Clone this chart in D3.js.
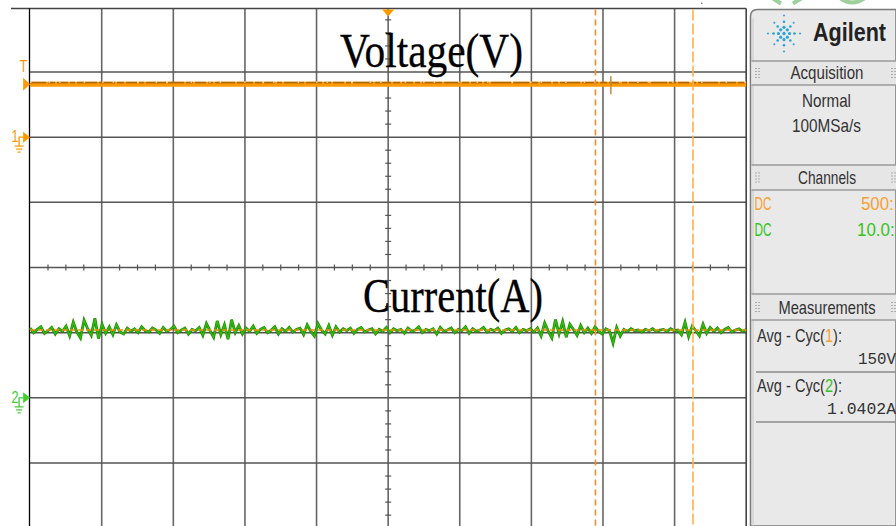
<!DOCTYPE html>
<html>
<head>
<meta charset="utf-8">
<script src="https://cdn.jsdelivr.net/npm/d3@7"></script>
<style>
  html, body { margin: 0; padding: 0; background: #ffffff; }
  svg { display: block; }
</style>
</head>
<body>
<script>
// ---- acquisition settings ----
const voltsPerDiv = 185;        // channel 1 (500:1 probe)
const ampsPerDiv = 1;           // channel 2 (10.0:1 probe)
const ch1GroundDiv = 2;         // ground reference positions, in divisions from centre
const ch2GroundDiv = -2;
const triggerLevel = 150;       // volts

// ---- captured channel 1 samples (V) ----
const voltage = [150, 150, 150, 150, 150, 150, 150, 150, 150, 150,
                 150, 150, 150, 150, 150, 150, 150, 150, 150, 150];

// ---- captured channel 2 samples (A) ----
const current = [
  1.07, 1.00, 1.05, 1.09, 0.99, 1.03, 1.08, 0.98, 1.06, 1.02, 1.10,
  0.95, 1.16, 1.01, 0.92, 1.19, 1.06, 0.96, 1.22, 0.91, 1.13, 0.99,
  1.09, 0.97, 1.12, 1.01, 0.98, 1.07, 1.02,
  1.06, 1.00, 1.09, 1.03, 1.01, 1.07, 1.04, 0.99, 1.08, 1.02, 1.05, 1.10, 1.00, 1.04, 1.07, 0.98, 1.05, 1.03, 1.08,
  0.96, 1.14, 1.03, 0.93, 1.18, 0.97, 1.12, 0.90, 1.20, 1.00, 1.11,
  0.98, 1.07, 1.02, 1.10, 0.99, 1.05, 1.08, 1.00, 1.04, 1.09, 0.98, 1.06, 1.02, 1.08, 1.01, 1.05, 1.07,
  0.97, 1.12, 1.02, 0.95, 1.14, 1.04, 0.98, 1.11, 0.96, 1.09, 1.01, 1.06,
  1.03, 1.07, 0.99, 1.05, 1.08, 1.01, 1.04, 1.06, 0.98, 1.05, 1.02, 1.08, 1.00, 1.06, 1.03, 1.05, 0.99, 1.07,
  1.02, 1.04, 1.09, 1.00, 1.05, 1.03, 1.06, 0.98, 1.08, 1.02, 1.04, 1.07, 1.00, 1.05, 1.03, 1.09, 0.99, 1.06,
  1.02, 1.04, 1.08, 1.01, 1.05, 1.03, 1.07, 0.99, 1.04, 1.06, 1.02, 1.08, 1.00, 1.05, 1.03, 1.06, 1.01, 1.07,
  0.95, 1.15, 1.02, 0.92, 1.20, 0.98, 1.17, 0.93, 1.13, 1.05, 0.96, 1.11, 1.00,
  1.07, 0.99, 1.09, 1.02, 0.98, 1.06, 1.03,
  0.84, 1.08, 0.95,
  1.05, 1.02, 1.06, 1.03, 1.04, 1.01, 1.05, 1.03, 1.06, 1.02, 1.04, 1.05, 1.02, 1.06, 1.03, 1.04,
  0.97, 1.16, 0.94, 1.10, 1.03, 0.95, 1.13, 0.99, 1.08,
  1.02, 1.07, 1.00, 1.05, 1.08, 1.01, 1.04, 1.06, 1.02, 1.05
];

// ---- cursors and markers (time in divisions from centre) ----
const cursorDivs = [2.895, 4.257];
const sampleMarkerDiv = 3.11;

// ---- measurement readouts ----
const avgVoltage = 150;
const avgCurrent = 1.0402;
const traceTitles = ["Voltage(V)", "Current(A)"];

// ---- layout ----
const W = 896, H = 526;
const svg = d3.select("body").append("svg").attr("width", W).attr("height", H);

const x = d3.scaleLinear().domain([-5, 5]).range([30.1, 746.2]);
const y = d3.scaleLinear().domain([-4, 4]).range([528.2, 6.8]);
const frameTop = 8.5;

const yV = v => y(ch1GroundDiv + v / voltsPerDiv);
const yA = a => y(ch2GroundDiv + a / ampsPerDiv);
const xt = d3.scaleLinear().domain([0, current.length - 1]).range([x(-5), x(5)]);
const xtV = d3.scaleLinear().domain([0, voltage.length - 1]).range([x(-5), x(5)]);

const ORANGE = "#ff9900";
const GREEN = "#33bb11";

// ---- graticule ----
const grid = svg.append("g");
grid.selectAll("line.v").data(d3.range(-4, 5)).join("line")
  .attr("class", "v")
  .attr("x1", d => x(d)).attr("x2", d => x(d))
  .attr("y1", frameTop).attr("y2", H)
  .attr("stroke", "#666").attr("stroke-width", 1.6);
grid.selectAll("line.h").data(d3.range(-3, 4)).join("line")
  .attr("class", "h")
  .attr("x1", x(-5)).attr("x2", x(5))
  .attr("y1", d => y(d)).attr("y2", d => y(d))
  .attr("stroke", "#555").attr("stroke-width", 1.5);

// minor ticks on the centre axes: 4 per division in time, 5 per division vertically
grid.selectAll("line.tickx").data(d3.range(-20, 21).filter(d => d % 4 !== 0)).join("line")
  .attr("class", "tickx")
  .attr("x1", d => x(d / 4)).attr("x2", d => x(d / 4))
  .attr("y1", y(0) - 3).attr("y2", y(0) + 3)
  .attr("stroke", "#555").attr("stroke-width", 1.2);
grid.selectAll("line.ticky").data(d3.range(-20, 21).filter(d => d % 5 !== 0)).join("line")
  .attr("class", "ticky")
  .attr("x1", x(0) - 3).attr("x2", x(0) + 3)
  .attr("y1", d => y(d / 5)).attr("y2", d => y(d / 5))
  .attr("stroke", "#555").attr("stroke-width", 1.2);

// frame
svg.append("line").attr("x1", 11).attr("x2", x(5)).attr("y1", frameTop).attr("y2", frameTop)
  .attr("stroke", "#444").attr("stroke-width", 1.6);
svg.append("line").attr("x1", x(-5) - 0.6).attr("x2", x(-5) - 0.6).attr("y1", frameTop).attr("y2", H)
  .attr("stroke", "#000").attr("stroke-width", 1.3);
svg.append("line").attr("x1", x(5)).attr("x2", x(5)).attr("y1", frameTop).attr("y2", H)
  .attr("stroke", "#444").attr("stroke-width", 1.6);

// ---- channel 1 trace ----
const lineV = d3.line().x((d, i) => xtV(i)).y(d => yV(d));
svg.append("path").datum(voltage).attr("d", lineV)
  .attr("fill", "none").attr("stroke", ORANGE).attr("stroke-width", 5);
svg.append("path").datum(voltage).attr("d", d3.line().x((d, i) => xtV(i)).y(d => yV(d) - 1.6))
  .attr("fill", "none").attr("stroke", "#b06a08").attr("stroke-width", 1.8)
  .attr("stroke-dasharray", "16,2,7,2,11,2,5,2,20,2");
svg.append("path").datum(voltage).attr("d", d3.line().x((d, i) => xtV(i)).y(d => yV(d) - 2.2))
  .attr("fill", "none").attr("stroke", "#ffffff").attr("stroke-width", 1)
  .attr("stroke-dasharray", "1.5,17,1.5,9,1.5,23");

// sample marker on channel 1
svg.append("line")
  .attr("x1", x(sampleMarkerDiv)).attr("x2", x(sampleMarkerDiv))
  .attr("y1", yV(avgVoltage) - 8).attr("y2", yV(avgVoltage) + 10)
  .attr("stroke", "#c08a40").attr("stroke-width", 1.5);

// ---- channel 2 trace ----
const lineA = d3.line().x((d, i) => xt(i)).y(d => yA(d));
svg.append("path").datum(current).attr("d", lineA)
  .attr("fill", "none").attr("stroke", "#1f8a00").attr("stroke-width", 2.8);
svg.append("path").datum(current).attr("d", lineA)
  .attr("fill", "none").attr("stroke", GREEN).attr("stroke-width", 1.4);

// average marker on channel 2
svg.append("line").attr("x1", x(-5)).attr("x2", x(5))
  .attr("y1", yA(avgCurrent)).attr("y2", yA(avgCurrent))
  .attr("stroke", "#ff8800").attr("stroke-width", 1.5).attr("stroke-dasharray", "5,3");

// ---- time cursors ----
svg.selectAll("line.cursor").data(cursorDivs).join("line")
  .attr("class", "cursor")
  .attr("x1", d => x(d)).attr("x2", d => x(d))
  .attr("y1", frameTop + 1).attr("y2", H)
  .attr("stroke", (d, i) => i === 0 ? "#f58a2a" : "#ffb050")
  .attr("stroke-width", 1.6)
  .attr("stroke-dasharray", (d, i) => i === 0 ? "6,4" : "11,3");

// trigger position marker
svg.append("path")
  .attr("d", `M${x(0) - 6},${frameTop + 1}L${x(0) + 6},${frameTop + 1}L${x(0)},${frameTop + 8}Z`)
  .attr("fill", ORANGE);

// ---- left-edge markers ----
const L = x(-5);
svg.append("text").attr("x", L - 6.5).attr("y", yV(triggerLevel) - 12)
  .attr("text-anchor", "middle").attr("font-family", "Liberation Sans, sans-serif")
  .attr("font-size", 16).attr("textLength", 8).attr("lengthAdjust", "spacingAndGlyphs")
  .attr("fill", ORANGE).text("T");
svg.append("path")
  .attr("d", `M${L - 7},${yV(triggerLevel) - 6.5}L${L},${yV(triggerLevel)}L${L - 7},${yV(triggerLevel) + 6.5}Z`)
  .attr("fill", ORANGE);

function groundMarker(label, yy, color) {
  const g = svg.append("g");
  g.append("text").attr("x", L - 15).attr("y", yy + 5)
    .attr("text-anchor", "middle").attr("font-family", "Liberation Sans, sans-serif")
    .attr("font-size", 16).attr("textLength", 7).attr("lengthAdjust", "spacingAndGlyphs")
    .attr("fill", color).text(label);
  g.append("path").attr("d", `M${L - 7},${yy - 5.5}L${L},${yy}L${L - 7},${yy + 5.5}Z`).attr("fill", color);
  g.append("path")
    .attr("d", `M${L - 7},${yy}H${L - 11}V${yy + 9}M${L - 15.5},${yy + 9}H${L - 6.5}M${L - 14},${yy + 12}H${L - 8}M${L - 12.5},${yy + 15}H${L - 9.5}`)
    .attr("fill", "none").attr("stroke", color).attr("stroke-width", 1.3);
}
groundMarker("1", y(ch1GroundDiv), ORANGE);
groundMarker("2", y(ch2GroundDiv), "#44cc33");

// ---- trace titles ----
const titleFont = "Liberation Serif, 'Times New Roman', serif";
svg.append("text").attr("x", 340).attr("y", 67)
  .attr("font-family", titleFont).attr("font-size", 48)
  .attr("textLength", 183).attr("lengthAdjust", "spacingAndGlyphs")
  .attr("fill", "#000").attr("stroke", "#000").attr("stroke-width", 0.3).text(traceTitles[0]);
svg.append("text").attr("x", 363).attr("y", 312)
  .attr("font-family", titleFont).attr("font-size", 48)
  .attr("textLength", 180).attr("lengthAdjust", "spacingAndGlyphs")
  .attr("fill", "#000").attr("stroke", "#000").attr("stroke-width", 0.3).text(traceTitles[1]);

// stray pixel near the top edge
svg.append("rect").attr("x", 701).attr("y", 2.5).attr("width", 1.5).attr("height", 1.5).attr("fill", "#888");

// ---- side panel ----
const P = svg.append("g");
const px = 750.5;
P.append("path")
  .attr("d", `M${px},${H}V${frameTop + 8}Q${px},${frameTop + 1} ${px + 7},${frameTop + 1}H${W}V${H}Z`)
  .attr("fill", "#e9e9e9").attr("stroke", "#7a7a7a").attr("stroke-width", 1.5);
P.append("line").attr("x1", px + 2.5).attr("x2", px + 2.5).attr("y1", frameTop + 10).attr("y2", H)
  .attr("stroke", "#c8c8c8").attr("stroke-width", 1);

// partial green glyphs above the panel
P.append("path").attr("d", "M772,-2L781,3.5M802,-2L793,3.5")
  .attr("stroke", "#9dd09d").attr("stroke-width", 4).attr("fill", "none");
P.append("path").attr("d", "M840,-2Q852,7 865,-2")
  .attr("stroke", "#9dd09d").attr("stroke-width", 4).attr("fill", "none");

// Agilent spark logo
const logoC = [784, 33.5];
d3.range(8).forEach(i => {
  const a = i * Math.PI / 4;
  const axis = i % 2 === 0;
  [5.5, 10.5, 16].forEach((r, k) => {
    P.append("circle")
      .attr("cx", logoC[0] + Math.cos(a) * r * (axis ? 1 : 0.85))
      .attr("cy", logoC[1] + Math.sin(a) * r * (axis ? 1.12 : 0.95))
      .attr("r", [1.6, 1.3, 1.0][k]).attr("fill", "#2aa3d8");
  });
});
P.append("circle").attr("cx", logoC[0]).attr("cy", logoC[1]).attr("r", 1.7).attr("fill", "#2aa3d8");
P.append("text").attr("x", 813).attr("y", 41)
  .attr("font-family", "Liberation Sans, Arial, sans-serif").attr("font-weight", "bold")
  .attr("font-size", 25).attr("textLength", 73).attr("lengthAdjust", "spacingAndGlyphs")
  .attr("fill", "#222").text("Agilent");

// section headers
const sections = [
  { name: "Acquisition", top: 61, bottom: 85, len: 73 },
  { name: "Channels", top: 165, bottom: 190, len: 58 },
  { name: "Measurements", top: 294, bottom: 320, len: 97 }
];
const panelFont = "Liberation Sans, Arial, sans-serif";
sections.forEach(s => {
  P.append("rect").attr("x", px + 1).attr("y", s.top).attr("width", W - px).attr("height", s.bottom - s.top)
    .attr("fill", "#e6e6e6");
  [s.top, s.bottom].forEach(yy => P.append("line").attr("x1", px + 1).attr("x2", W)
    .attr("y1", yy).attr("y2", yy).attr("stroke", "#9a9a9a").attr("stroke-width", 1.6));
  P.append("text").attr("x", 827).attr("y", s.bottom - 6).attr("text-anchor", "middle")
    .attr("font-family", panelFont).attr("font-size", 19)
    .attr("textLength", s.len).attr("lengthAdjust", "spacingAndGlyphs")
    .attr("fill", "#333").text(s.name);
  [757, 893].forEach(gx => {
    [0, 1].forEach(c => [0, 1, 2, 3].forEach(r => P.append("rect")
      .attr("x", gx - 1.5 + c * 3).attr("y", (s.top + s.bottom) / 2 - 5 + r * 3)
      .attr("width", 1).attr("height", 1).attr("fill", "#777")));
  });
});

function panelText(t, xx, yy, len, color, anchor) {
  return P.append("text").attr("x", xx).attr("y", yy)
    .attr("text-anchor", anchor || "start")
    .attr("font-family", panelFont).attr("font-size", 19)
    .attr("textLength", len).attr("lengthAdjust", "spacingAndGlyphs")
    .attr("fill", color || "#333").text(t);
}
panelText("Normal", 826.5, 107, 49, "#333", "middle");
panelText("100MSa/s", 826.5, 132, 69, "#333", "middle");

const probes = [
  { coupling: "DC", ratio: "500:1", color: "#f7a030", base: 210, x0: 861, len: 42 },
  { coupling: "DC", ratio: "10.0:1", color: "#33c41a", base: 236, x0: 857, len: 47 }
];
probes.forEach(p => {
  panelText(p.coupling, 754.5, p.base, 17, p.color);
  panelText(p.ratio, p.x0, p.base, p.len, p.color);
});

// measurement readouts
const meas = [
  { ch: "1", color: "#f7a030", value: avgVoltage + "V", base: 342, vlen: 38 },
  { ch: "2", color: "#33c41a", value: avgCurrent.toFixed(4) + "A", base: 392, vlen: 69 }
];
meas.forEach(m => {
  const t = P.append("text").attr("x", 757).attr("y", m.base)
    .attr("font-family", panelFont).attr("font-size", 19)
    .attr("textLength", 85).attr("lengthAdjust", "spacingAndGlyphs").attr("fill", "#333");
  t.append("tspan").text("Avg - Cyc(");
  t.append("tspan").attr("fill", m.color).text(m.ch);
  t.append("tspan").text("):");
  P.append("text").attr("x", 896).attr("y", m.base + 22).attr("text-anchor", "end")
    .attr("font-family", "Liberation Mono, DejaVu Sans Mono, monospace").attr("font-size", 17)
    .attr("textLength", m.vlen).attr("lengthAdjust", "spacingAndGlyphs")
    .attr("fill", "#333").text(m.value);
  P.append("line").attr("x1", 756).attr("x2", W).attr("y1", m.base + 30).attr("y2", m.base + 30)
    .attr("stroke", "#8a8a8a").attr("stroke-width", 1.4);
});
</script>
</body>
</html>
